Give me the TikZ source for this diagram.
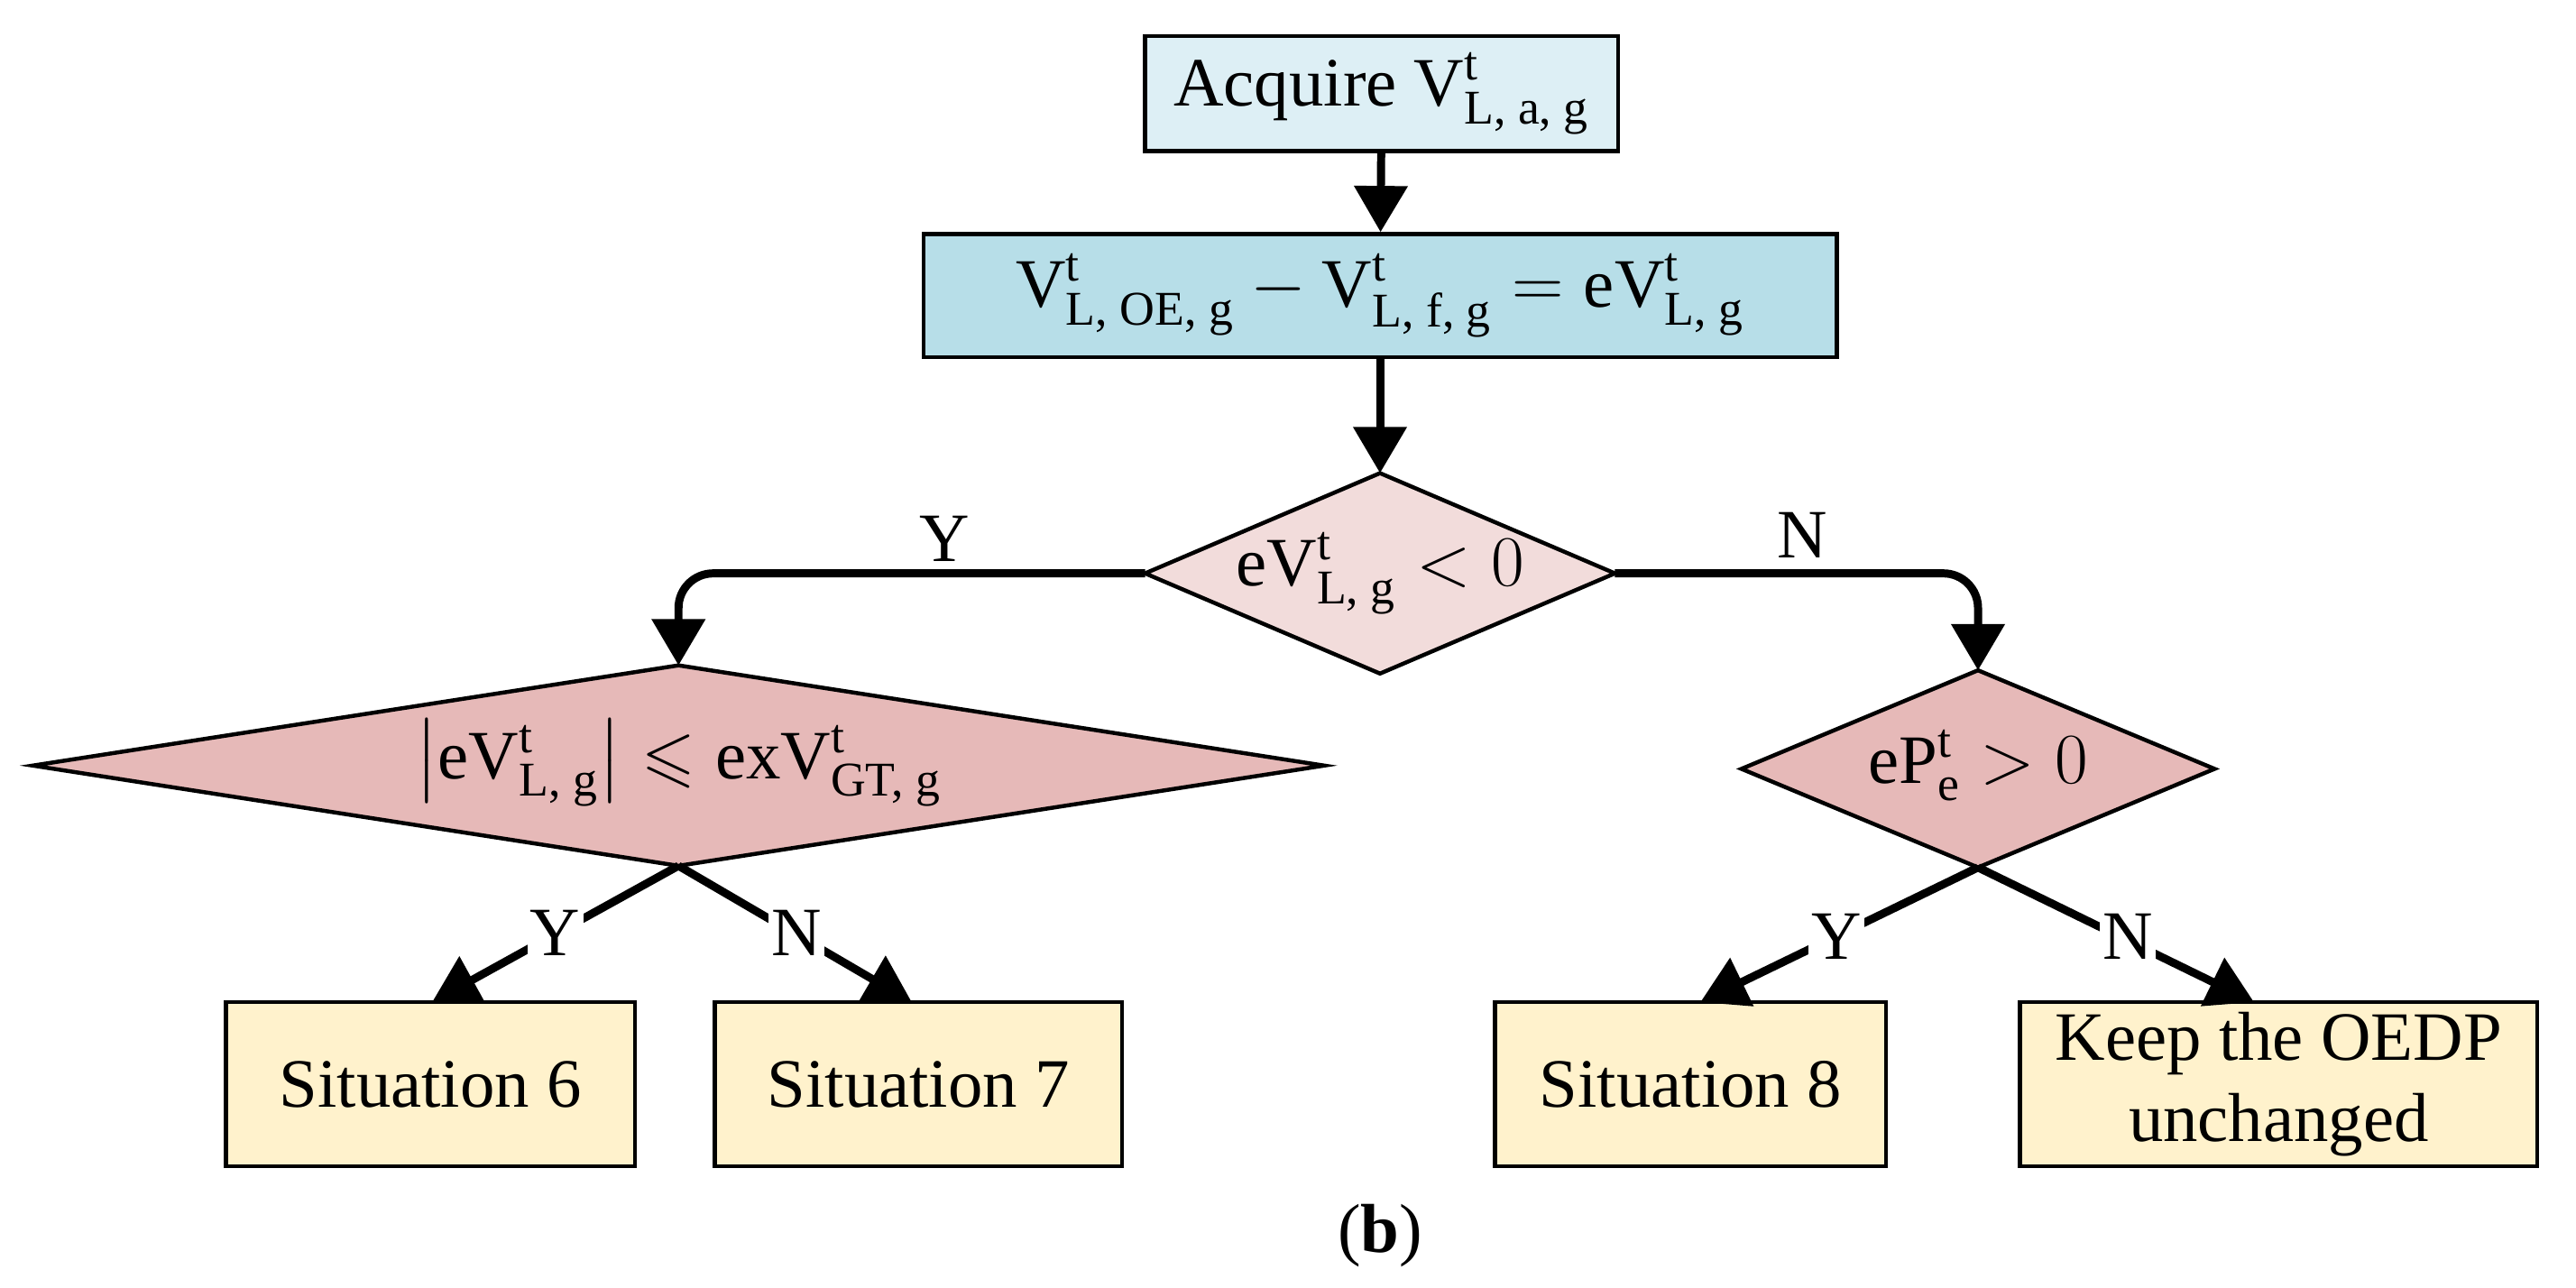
\documentclass[tikz,border=0pt]{standalone}
\usepackage{amsmath,amssymb}
\usepackage{fontspec}
\setmainfont{Liberation Serif}
\usetikzlibrary{arrows.meta}
\definecolor{b1}{HTML}{DDEFF5}
\definecolor{b2}{HTML}{B7DEE8}
\definecolor{d1}{HTML}{F2DCDB}
\definecolor{d2}{HTML}{E6B9B8}
\definecolor{ye}{HTML}{FFF2CC}
\newcommand{\tv}[1]{\text{#1}}
\begin{document}
\begin{tikzpicture}[x=0.02cm,y=-0.02cm,
  every node/.style={font=\fontsize{24}{28}\selectfont},
  box/.style={draw,line width=1.4pt,inner sep=0pt},
  dl/.style={line width=1.4pt},
  arr/.style={line width=2.8pt,-{Triangle[length=16pt,width=18pt]},rounded corners=12pt},
  lab/.style={fill=white,inner sep=1pt}]
\useasboundingbox (0,0) rectangle (1568,784);
\node[box,fill=b1,minimum width=5.76cm,minimum height=1.4cm] (a) at (841,57) {Acquire $\tv{V}^{\tv{t}}_{\tv{L, a, g}}$};
\node[box,fill=b2,minimum width=11.12cm,minimum height=1.5cm] (b) at (840,180) {$\tv{V}^{\tv{t}}_{\tv{L, OE, g}}-\tv{V}^{\tv{t}}_{\tv{L, f, g}}=\tv{eV}^{\tv{t}}_{\tv{L, g}}$};
% diamonds
\coordinate (cN) at (840,288); \coordinate (cS) at (840,410);
\coordinate (cW) at (697,349); \coordinate (cE) at (983,349);
\draw[dl,fill=d1] (cN)--(cE)--(cS)--(cW)--cycle;
\node (c) at (840,349) {$\tv{eV}^{\tv{t}}_{\tv{L, g}}<0$};
\coordinate (dN) at (413,405); \coordinate (dS) at (413,527);
\coordinate (dW) at (20,466); \coordinate (dE) at (806,466);
\draw[dl,fill=d2] (dN)--(dE)--(dS)--(dW)--cycle;
\node (d) at (413,464) {$\bigl|\tv{eV}^{\tv{t}}_{\tv{L, g}}\bigr|\leqslant\tv{exV}^{\tv{t}}_{\tv{GT, g}}$};
\coordinate (eN) at (1204,408); \coordinate (eS) at (1204,528);
\coordinate (eW) at (1060,468); \coordinate (eE) at (1348,468);
\draw[dl,fill=d2] (eN)--(eE)--(eS)--(eW)--cycle;
\node (e) at (1204,466) {$\tv{eP}^{\tv{t}}_{\tv{e}}>0$};
\node[box,fill=ye,minimum width=4.98cm,minimum height=2cm] (s6) at (262,660) {Situation 6};
\node[box,fill=ye,minimum width=4.96cm,minimum height=2cm] (s7) at (559,660) {Situation 7};
\node[box,fill=ye,minimum width=4.76cm,minimum height=2cm] (s8) at (1029,660) {Situation 8};
\node[box,fill=ye,minimum width=6.3cm,minimum height=2cm,align=center] (k) at (1387,660) {Keep the OEDP\\unchanged};
\coordinate (t6) at (263,610); \coordinate (t7) at (555,610);
\coordinate (t8) at (1035,610); \coordinate (tk) at (1372,610);
\draw[arr] (a) -- (b);
\draw[arr] (b) -- (cN);
\draw[arr] (cW) -| (dN);
\draw[arr] (cE) -| (eN);
\draw[arr] (dS) -- (t6);
\draw[arr] (dS) -- (t7);
\draw[arr] (eS) -- (t8);
\draw[arr] (eS) -- (tk);
\node at (575,328) {Y};
\node at (1097,326) {N};
\node[lab] at (338,568) {Y};
\node[lab] at (485,568) {N};
\node[lab] at (1118,570) {Y};
\node[lab] at (1295,570) {N};
\node (cap) at (840,752) {(\textbf{b})};
\end{tikzpicture}
\end{document}
